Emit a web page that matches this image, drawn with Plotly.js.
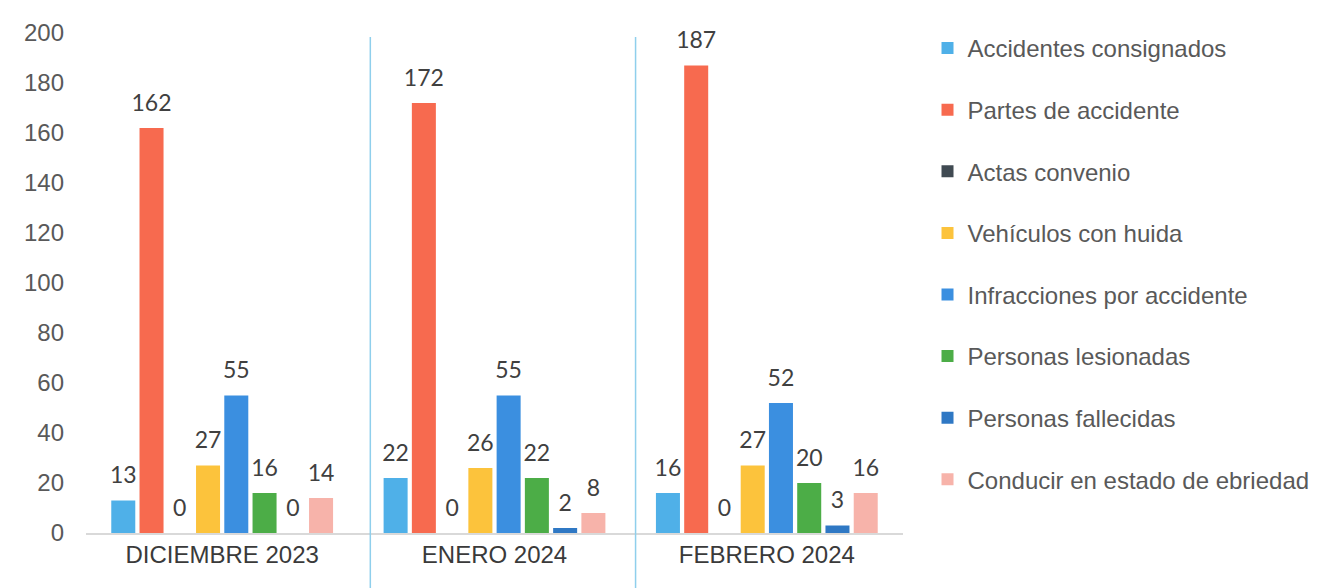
<!DOCTYPE html>
<html>
<head>
<meta charset="utf-8">
<script src="https://cdn.plot.ly/plotly-3.0.1.min.js"></script>
<style>html,body{margin:0;padding:0;background:#fff;}#chart{width:1333px;height:588px;}</style>
</head>
<body>
<div id="chart"></div>
<script>
var months = ["DICIEMBRE 2023", "ENERO 2024", "FEBRERO 2024"];
var seriesNames = ["Accidentes consignados", "Partes de accidente", "Actas convenio", "Vehículos con huida", "Infracciones por accidente", "Personas lesionadas", "Personas fallecidas", "Conducir en estado de ebriedad"];
var accidentesConsignados = [13, 22, 16];
var partesDeAccidente = [162, 172, 187];
var actasConvenio = [0, 0, 0];
var vehiculosConHuida = [27, 26, 27];
var infraccionesPorAccidente = [55, 55, 52];
var personasLesionadas = [16, 22, 20];
var personasFallecidas = [0, 2, 3];
var conducirEbriedad = [14, 8, 16];
var yTicks = [0, 20, 40, 60, 80, 100, 120, 140, 160, 180, 200];

var seriesValues = [accidentesConsignados, partesDeAccidente, actasConvenio, vehiculosConHuida, infraccionesPorAccidente, personasLesionadas, personasFallecidas, conducirEbriedad];
var colors = ["#4fb0e8", "#f76a4f", "#404a52", "#fcc33c", "#3b8fe0", "#4cad47", "#2f78c4", "#f7b3aa"];

var traces = [];
seriesNames.forEach(function (name, i) {
  traces.push({
    type: "bar", name: name, x: months, y: seriesValues[i],
    marker: {color: colors[i]}, legendgroup: "g" + i,
    hoverinfo: "skip"
  });
});
seriesNames.forEach(function (name, i) {
  traces.push({
    type: "scatter", mode: "text+markers", x: months, y: seriesValues[i],
    text: seriesValues[i].map(String), textposition: "top center",
    textfont: {family: "Lato, 'Open Sans', sans-serif", size: 23, color: "#404040"},
    marker: {size: 17, opacity: 0, color: colors[i]},
    showlegend: false, hoverinfo: "skip", cliponaxis: false
  });
});

var layout = {
  width: 1333, height: 588,
  margin: {l: 86, r: 430, t: 33, b: 55},
  paper_bgcolor: "#ffffff", plot_bgcolor: "#ffffff",
  barmode: "group", bargap: 0.17, bargroupgap: 0.15,
  scattermode: "group", scattergap: 0.17,
  font: {family: "'Liberation Sans', Arial, sans-serif", color: "#595959"},
  xaxis: {
    type: "category", showgrid: false, zeroline: false,
    showline: true, linecolor: "#d9d9d9", linewidth: 1.5,
    ticks: "", tickfont: {size: 24, color: "#3a3a3a"}, fixedrange: true
  },
  yaxis: {
    range: [0, 200], tickvals: yTicks, showgrid: false, zeroline: false,
    showline: false, ticks: "", ticklabelstandoff: 21,
    tickfont: {size: 24, color: "#595959"}, fixedrange: true
  },
  legend: {
    x: 1.03, xanchor: "left", y: 1.014, yanchor: "top",
    font: {size: 24, color: "#595959"}, tracegroupgap: 27.4,
    maxheight: 588,
    bgcolor: "rgba(0,0,0,0)"
  },
  shapes: [
    {type: "line", xref: "x", yref: "paper", x0: 0.544, x1: 0.544, y0: -0.11, y1: 0.992, line: {color: "#8fcfec", width: 1.5}},
    {type: "line", xref: "x", yref: "paper", x0: 1.518, x1: 1.518, y0: -0.11, y1: 0.992, line: {color: "#8fcfec", width: 1.5}}
  ]
};

Plotly.newPlot("chart", traces, layout, {displayModeBar: false, staticPlot: true});
</script>
</body>
</html>
